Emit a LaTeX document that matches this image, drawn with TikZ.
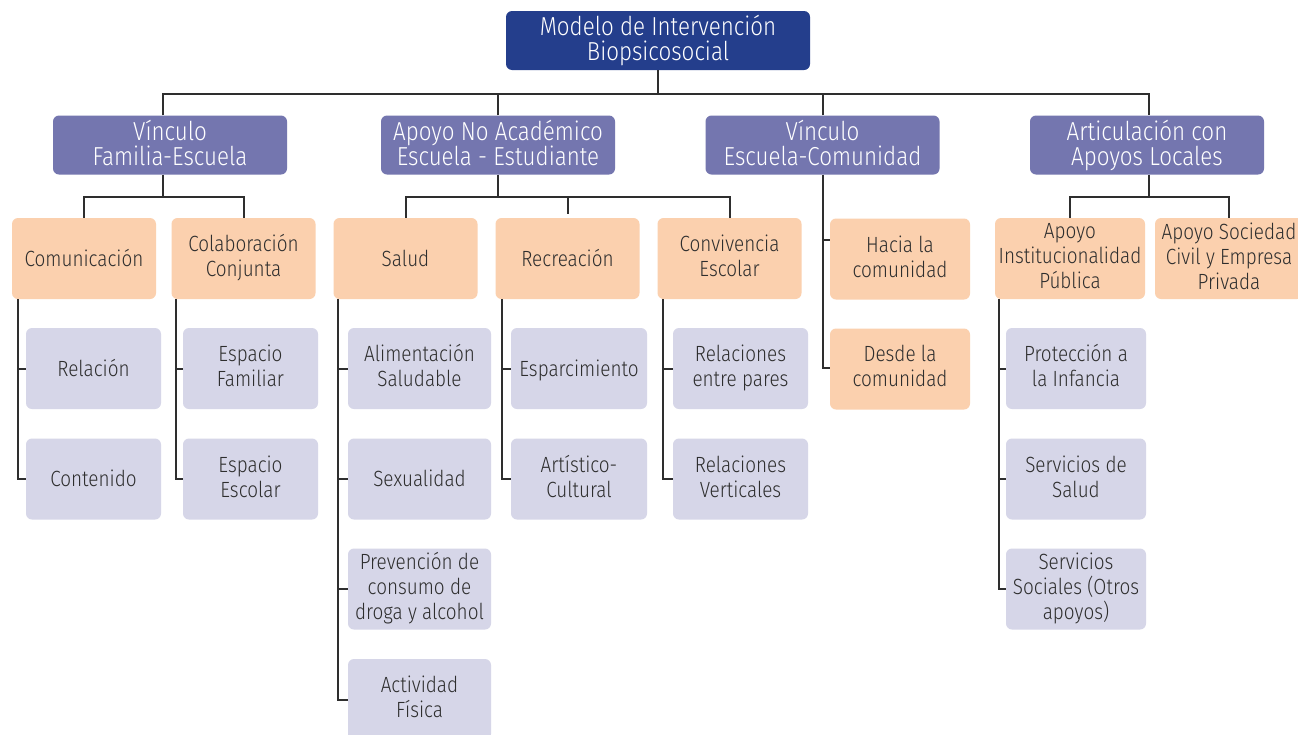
\documentclass[tikz,border=0pt]{standalone}
\usepackage{fontspec}
\setmainfont{Fira Sans Light}[FakeStretch=0.86]
\usepackage{tikz}

\definecolor{TopBlue}{HTML}{243E8C}
\definecolor{LevelOne}{HTML}{7476AF}
\definecolor{LevelTwo}{HTML}{FBD0AE}
\definecolor{LevelThree}{HTML}{D6D6E8}
\definecolor{InkGray}{HTML}{2E2E2E}

\providecommand{\BoxFont}{\fontsize{22}{25}\selectfont}
\providecommand{\HeadFont}{\fontsize{26}{25}\selectfont}
\providecommand{\BusDrop}{22}
% balanced struts: height minus depth sets where the text sits
\providecommand{\BoxStrut}{\rule[-0.25em]{0pt}{1.19em}}
\providecommand{\HeadStrut}{\rule[-0.15em]{0pt}{1.22em}}

\tikzset{
    box/.style={rounded corners=6pt, inner sep=0pt, align=center, font=\BoxFont,
        execute at begin node=\BoxStrut, execute at end node=\BoxStrut},
    headbox/.style={rounded corners=6pt, inner sep=0pt, align=center, font=\HeadFont, text=white,
        execute at begin node=\HeadStrut, execute at end node=\HeadStrut},
    topbox/.style={headbox, fill=TopBlue, minimum width=304, minimum height=59},
    lvlone/.style={headbox, fill=LevelOne, minimum width=234, minimum height=59},
    lvltwo/.style={box, fill=LevelTwo, text=InkGray, minimum width=144, minimum height=81},
    lvlthree/.style={box, fill=LevelThree, text=InkGray, minimum width=136, minimum height=81},
    link/.style={draw=InkGray, line width=2pt}
}

\begin{document}
\begin{tikzpicture}[x=1pt,y=-1pt]

% Page background
\useasboundingbox[fill=white] (0,0) rectangle (1298,734);

% =====================================================
% ROOT
% =====================================================
\node[topbox] (modelo) at (658,40.5) {Modelo de Intervención\\Biopsicosocial};

% =====================================================
% FIRST LEVEL
% =====================================================
\node[lvlone] (famesc) at (170,145) {Vínculo\\Familia-Escuela};
\node[lvlone] (apoyono) at (498,145) {Apoyo No Académico\\Escuela - Estudiante};
\node[lvlone] (esccom) at (822.5,145) {Vínculo\\Escuela-Comunidad};
\node[lvlone] (artloc) at (1147,145) {Articulación con\\Apoyos Locales};

% Root bus
\draw[link] (modelo.south) -- ++(0,24) coordinate (bus);
\draw[link] ([xshift=-7pt]famesc.north) |- (bus) -| ([xshift=2pt]artloc.north);
\draw[link] (apoyono.north) -- (apoyono.north |- bus);
\draw[link] (esccom.north) -- (esccom.north |- bus);

% =====================================================
% SECOND LEVEL
% =====================================================
\node[lvltwo] (comunic) at (84,258.5) {Comunicación};
\node[lvltwo] (colab) at (243.5,258.5) {Colaboración\\Conjunta};

\node[lvltwo] (salud) at (405.5,258.5) {Salud};
\node[lvltwo] (recrea) at (567.5,258.5) {Recreación};
\node[lvltwo] (convive) at (729.5,258.5) {Convivencia\\Escolar};

\node[lvltwo, minimum width=140] (hacia) at (900,259) {Hacia la\\comunidad};
\node[lvltwo, minimum width=140] (desde) at (900,369) {Desde la\\comunidad};

\node[lvltwo, minimum width=150] (apinst) at (1070,258.5) {Apoyo\\Institucionalidad\\Pública};
\node[lvltwo, minimum width=148] (apsoc) at (1229,258.5) {Apoyo Sociedad\\Civil y Empresa\\Privada};

% Familia-Escuela branch
\draw[link] ([xshift=-7pt]famesc.south) -- ++(0,\BusDrop) coordinate (febus);
\draw[link] (comunic.north) |- (febus) -| (colab.north);

% Apoyo no academico branch
\draw[link] (apoyono.south) -- ++(0,\BusDrop) coordinate (anbus);
\draw[link] (salud.north) |- (anbus) -| (convive.north);
\draw[link] (anbus -| recrea.north) -- ([yshift=4pt]recrea.north);

% Escuela-Comunidad branch
\draw[link] (esccom.south) |- ([yshift=1pt]desde.west);
\draw[link] ([yshift=19pt]hacia.west -| esccom.south) -- ([yshift=19pt]hacia.west);

% Apoyos locales branch
\draw[link] ([xshift=2pt]artloc.south) -- ++(0,\BusDrop) coordinate (albus);
\draw[link] (apinst.north) |- (albus) -| (apsoc.north);

% =====================================================
% THIRD LEVEL
% =====================================================
\node[lvlthree, minimum width=135] (relacion) at (93.5,368.5) {Relación};
\node[lvlthree, minimum width=135] (contenido) at (93.5,479) {Contenido};

\node[lvlthree, minimum width=135] (espfam) at (250.5,368.5) {Espacio\\Familiar};
\node[lvlthree, minimum width=135] (espesc) at (250.5,479) {Espacio\\Escolar};

\node[lvlthree, minimum width=143] (alimen) at (419.5,368.5) {Alimentación\\Saludable};
\node[lvlthree, minimum width=143] (sexual) at (419.5,479) {Sexualidad};
\node[lvlthree, minimum width=143] (prevenc) at (419.5,589) {Prevención de\\consumo de\\droga y alcohol};
\node[lvlthree, minimum width=143] (actfis) at (419.5,699.5) {Actividad\\Física};

\node[lvlthree] (esparc) at (579,368.5) {Esparcimiento};
\node[lvlthree] (artcul) at (579,479) {Artístico-\\Cultural};

\node[lvlthree, minimum width=135] (relpares) at (740.5,368.5) {Relaciones\\entre pares};
\node[lvlthree, minimum width=135] (relvert) at (740.5,479) {Relaciones\\Verticales};

\node[lvlthree, minimum width=140] (proteccion) at (1076,368.5) {Protección a\\la Infancia};
\node[lvlthree, minimum width=140] (servsalud) at (1076,479) {Servicios de\\Salud};
\node[lvlthree, minimum width=140] (servsoc) at (1076,589) {Servicios\\Sociales (Otros\\apoyos)};

% Side rails with ticks
\foreach \parent/\off/\kids in {comunic/6/{relacion,contenido},
                                colab/5/{espfam,espesc},
                                salud/5/{alimen,sexual,prevenc,actfis},
                                recrea/7/{esparc,artcul},
                                convive/6/{relpares,relvert},
                                apinst/4/{proteccion,servsalud,servsoc}} {
    \foreach \kid in \kids {
        \draw[link] ([xshift=\off pt]\parent.south west) |- (\kid.west);
    }
}

\end{tikzpicture}
\end{document}
